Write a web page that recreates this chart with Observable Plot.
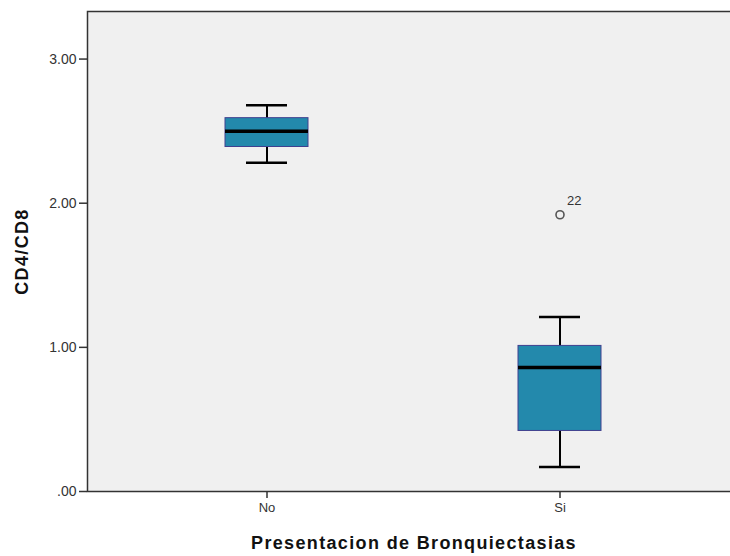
<!DOCTYPE html>
<html><head><meta charset="utf-8">
<script src="https://cdn.jsdelivr.net/npm/d3@7"></script>
<script src="https://cdn.jsdelivr.net/npm/@observablehq/plot@0.6"></script>
<style>body{margin:0;background:#fff;overflow:hidden;}</style>
</head><body><div id="chart"></div>
<script>
const categories = ["No", "Si"];
const whiskerLow = [2.28, 0.17];
const q1 = [2.39, 0.42];
const median = [2.50, 0.86];
const q3 = [2.59, 1.01];
const whiskerHigh = [2.68, 1.21];
const outlierCategory = ["Si"];
const outlierValue = [1.92];
const outlierLabel = ["22"];
const yTicks = [0, 1, 2, 3];
const xTitle = "Presentacion de Bronquiectasias";
const yTitle = "CD4/CD8";

const boxes = categories.map((c, i) => ({cat: c, lo: whiskerLow[i], q1: q1[i], med: median[i], q3: q3[i], hi: whiskerHigh[i]}));
const outliers = outlierCategory.map((c, i) => ({cat: c, v: outlierValue[i], label: outlierLabel[i]}));

const chart = Plot.plot({
  width: 730,
  height: 556,
  marginLeft: 87,
  marginRight: 0,
  marginTop: 11,
  marginBottom: 65,
  style: {fontFamily: "'Liberation Sans', Arial, sans-serif", background: "#fff", overflow: "hidden"},
  x: {type: "band", domain: categories, range: [225, 601.5], paddingInner: 0.717, paddingOuter: 0, axis: null},
  y: {domain: [0, 3.33], axis: null},
  marks: [
    Plot.frame({fill: "#f0f0f0", stroke: null}),
    Plot.ruleX(boxes, {x: "cat", y1: "lo", y2: "hi", stroke: "#000", strokeWidth: 2}),
    Plot.tickY(boxes, {x: "cat", y: "lo", inset: 21, stroke: "#000", strokeWidth: 2.5}),
    Plot.tickY(boxes, {x: "cat", y: "hi", inset: 21, stroke: "#000", strokeWidth: 2.5}),
    Plot.barY(boxes, {x: "cat", y1: "q1", y2: "q3", fill: "#2389ac", stroke: "#40408f", strokeWidth: 1}),
    Plot.tickY(boxes, {x: "cat", y: "med", stroke: "#000", strokeWidth: 3.5}),
    Plot.dot(outliers, {x: "cat", y: "v", r: 4, stroke: "#555", strokeWidth: 1.6, fill: "none"}),
    Plot.text(outliers, {x: "cat", y: "v", text: "label", dx: 7, dy: -14, textAnchor: "start", fontSize: 13, fill: "#333"}),
    Plot.axisY(yTicks, {tickSize: 8, tickPadding: 3, tickFormat: d => d === 0 ? ".00" : d.toFixed(2), fontSize: 14, color: "#333", strokeWidth: 1.5, label: null}),
    Plot.axisX({tickSize: 7, tickPadding: 4, fontSize: 13, color: "#333", strokeWidth: 1.5, label: null}),
    Plot.frame({stroke: "#333", strokeWidth: 1.5, fill: "none", ariaLabel: "outline"}),
    Plot.text([yTitle], {text: d => d, frameAnchor: "left", textAnchor: "middle", lineAnchor: "middle", rotate: -90, dx: -65, fontWeight: "bold", fontSize: 18, fill: "#111"}),
    Plot.text([xTitle], {text: d => d, frameAnchor: "bottom", textAnchor: "middle", dy: 57, dx: 5, fontWeight: "bold", fontSize: 18, fill: "#111"})
  ]
});
d3.select(chart).selectAll("text").filter(function() { return this.textContent === xTitle || this.textContent === yTitle; }).style("letter-spacing", "1.35px");
// hide the right side of the outline (the reference is cropped there)
d3.select(chart).selectAll("[aria-label='outline'] rect, rect[aria-label='outline']").each(function() {
  const w = +this.getAttribute("width"), h = +this.getAttribute("height");
  this.setAttribute("stroke-dasharray", `${w} ${h} ${w + h + 10}`);
});
document.getElementById("chart").appendChild(chart);
</script>
</body></html>
